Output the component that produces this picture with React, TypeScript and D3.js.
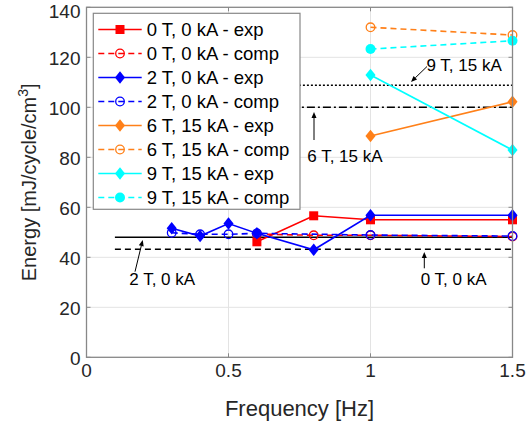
import React from "react";
import * as d3 from "d3";

const xTicks = [0, 0.5, 1, 1.5];
const yTicks = [0, 20, 40, 60, 80, 100, 120, 140];

const red_exp_x = [0.6, 0.8, 1, 1.5];
const red_exp_y = [46.2, 56.6, 55.0, 55.0];
const red_comp_x = [0.6, 0.8, 1, 1.5];
const red_comp_y = [49.3, 48.8, 48.8, 48.3];
const blue_exp_x = [0.3, 0.4, 0.5, 0.6, 0.8, 1, 1.5];
const blue_exp_y = [51.6, 48.5, 53.5, 49.6, 43.0, 56.8, 56.8];
const blue_comp_x = [0.3, 0.4, 0.5, 0.6, 1, 1.5];
const blue_comp_y = [49.8, 49.2, 49.2, 49.6, 48.9, 48.5];
const orange_exp_x = [1, 1.5];
const orange_exp_y = [88.5, 102.2];
const orange_comp_x = [1, 1.5];
const orange_comp_y = [132.0, 128.9];
const cyan_exp_x = [1, 1.5];
const cyan_exp_y = [112.9, 82.9];
const cyan_comp_x = [1, 1.5];
const cyan_comp_y = [123.3, 126.6];

const refValues = [48.0, 43.2, 108.8, 100.0];
const refDash = ["", "6,4", "2,2", "8,3,2,3"];
const refStart = 0.1;
const refEnd = 1.5;

const legendLabels = [
  "0 T, 0 kA - exp",
  "0 T, 0 kA - comp",
  "2 T, 0 kA - exp",
  "2 T, 0 kA - comp",
  "6 T, 15 kA - exp",
  "6 T, 15 kA - comp",
  "9 T, 15 kA - exp",
  "9 T, 15 kA - comp",
];

const RED = "#ff0000";
const BLUE = "#0000ff";
const ORANGE = "#ff8019";
const CYAN = "#00ffff";

type Series = { xs: number[]; ys: number[]; color: string; dashed: boolean; marker: string };
const series: Series[] = [
  { xs: red_exp_x, ys: red_exp_y, color: RED, dashed: false, marker: "square" },
  { xs: red_comp_x, ys: red_comp_y, color: RED, dashed: true, marker: "ocircle" },
  { xs: blue_exp_x, ys: blue_exp_y, color: BLUE, dashed: false, marker: "diamond" },
  { xs: blue_comp_x, ys: blue_comp_y, color: BLUE, dashed: true, marker: "ocircle" },
  { xs: orange_exp_x, ys: orange_exp_y, color: ORANGE, dashed: false, marker: "diamond" },
  { xs: orange_comp_x, ys: orange_comp_y, color: ORANGE, dashed: true, marker: "ocircle" },
  { xs: cyan_exp_x, ys: cyan_exp_y, color: CYAN, dashed: false, marker: "diamond" },
  { xs: cyan_comp_x, ys: cyan_comp_y, color: CYAN, dashed: true, marker: "fcircle" },
];

const W = 526;
const H = 427;
const L = 86.5, R = 512.5, T = 7.3, B = 357.3;
const FONT = "Liberation Sans, Arial, Helvetica, sans-serif";

function Marker({ type, x, y, color }: { type: string; x: number; y: number; color: string }) {
  if (type === "square") return <rect x={x - 4.5} y={y - 4.5} width={9} height={9} fill={color} />;
  if (type === "diamond") {
    const s = 6.3;
    return <path d={`M${x},${y - s}L${x + s * 0.8},${y}L${x},${y + s}L${x - s * 0.8},${y}Z`} fill={color} />;
  }
  if (type === "fcircle") return <circle cx={x} cy={y} r={5} fill={color} />;
  return <circle cx={x} cy={y} r={4.3} fill="none" stroke={color} strokeWidth={1.3} />;
}

function Arrow({ x1, y1, x2, y2 }: { x1: number; y1: number; x2: number; y2: number }) {
  const a = Math.atan2(y2 - y1, x2 - x1);
  const len = 6, wd = 2.5;
  const bx = x2 - len * Math.cos(a), by = y2 - len * Math.sin(a);
  const px = -Math.sin(a) * wd, py = Math.cos(a) * wd;
  return (
    <g>
      <line x1={x1} y1={y1} x2={bx} y2={by} stroke="#000" strokeWidth={1} />
      <path d={`M${x2},${y2}L${bx + px},${by + py}L${bx - px},${by - py}Z`} fill="#000" />
    </g>
  );
}

export default function App() {
  const x = d3.scaleLinear().domain([0, 1.5]).range([L, R]);
  const y = d3.scaleLinear().domain([0, 140]).range([B, T]);
  const line = d3.line<[number, number]>().x((d) => x(d[0])).y((d) => y(d[1]));

  const legX = 93.3, legY = 13.3, legW = 206.7, legH = 196;
  const rowY0 = 29.5, rowStep = 24;

  return (
    <svg width={W} height={H} style={{ position: "absolute", left: 0, top: 0, background: "#fff" }} fontFamily={FONT}>
      <rect x={0} y={0} width={W} height={H} fill="#fff" />
      {/* grid */}
      {xTicks.slice(1, -1).map((t) => (
        <line key={"gx" + t} x1={x(t)} x2={x(t)} y1={T} y2={B} stroke="#e3e3e3" strokeWidth={1} />
      ))}
      {yTicks.slice(1, -1).map((t) => (
        <line key={"gy" + t} x1={L} x2={R} y1={y(t)} y2={y(t)} stroke="#e3e3e3" strokeWidth={1} />
      ))}
      {/* ticks */}
      {xTicks.map((t) => (
        <g key={"tx" + t}>
          <line x1={x(t)} x2={x(t)} y1={B} y2={B - 4} stroke="#888" />
          <line x1={x(t)} x2={x(t)} y1={T} y2={T + 4} stroke="#888" />
          <text x={x(t)} y={B + 20} fontSize={19} textAnchor="middle" fill="#262626">{t}</text>
        </g>
      ))}
      {yTicks.map((t) => (
        <g key={"ty" + t}>
          <line x1={L} x2={L + 4} y1={y(t)} y2={y(t)} stroke="#888" />
          <line x1={R} x2={R - 4} y1={y(t)} y2={y(t)} stroke="#888" />
          <text x={L - 6} y={Math.max(y(t) + 8, 18)} fontSize={19} textAnchor="end" fill="#262626">{t}</text>
        </g>
      ))}
      {/* reference lines */}
      {refValues.map((v, i) => (
        <line key={"ref" + i} x1={x(refStart)} x2={x(refEnd)} y1={y(v)} y2={y(v)} stroke="#000" strokeWidth={1.4} strokeDasharray={refDash[i] || undefined} />
      ))}
      {/* series */}
      {series.map((s, i) => {
        const pts = s.xs.map((xv, j) => [xv, s.ys[j]] as [number, number]);
        return (
          <g key={"s" + i}>
            <path d={line(pts) || ""} fill="none" stroke={s.color} strokeWidth={1.6} strokeDasharray={s.dashed ? "6,4" : undefined} />
            {pts.map((p, j) => (
              <Marker key={j} type={s.marker} x={x(p[0])} y={y(p[1])} color={s.color} />
            ))}
          </g>
        );
      })}
      {/* box */}
      <rect x={L} y={T} width={R - L} height={B - T} fill="none" stroke="#888" strokeWidth={1.3} />
      {/* annotations */}
      <g fontSize={17} fill="#000">
        <text x={426.5} y={70.7}>9 T, 15 kA</text>
        <Arrow x1={427} y1={66.5} x2={411} y2={82} />
        <text x={307.3} y={161.7}>6 T, 15 kA</text>
        <Arrow x1={314} y1={140} x2={314} y2={112} />
        <text x={129.3} y={285}>2 T, 0 kA</text>
        <Arrow x1={135} y1={271.7} x2={142.7} y2={240} />
        <text x={420.7} y={285}>0 T, 0 kA</text>
        <Arrow x1={424.3} y1={268.3} x2={424.3} y2={252} />
      </g>
      {/* legend */}
      <rect x={legX} y={legY} width={legW} height={legH} fill="#fff" stroke="#888" strokeWidth={1.2} />
      {series.map((s, i) => {
        const ry = rowY0 + i * rowStep;
        return (
          <g key={"lg" + i}>
            <line x1={98.3} x2={141.7} y1={ry} y2={ry} stroke={s.color} strokeWidth={1.6} strokeDasharray={s.dashed ? "6,4" : undefined} />
            <Marker type={s.marker} x={120} y={ry} color={s.color} />
            <text x={146.7} y={ry + 6.5} fontSize={18.5} fill="#000">{legendLabels[i]}</text>
          </g>
        );
      })}
      {/* axis labels */}
      <text x={(L + R) / 2} y={416} fontSize={22} textAnchor="middle" fill="#262626">Frequency [Hz]</text>
      <text transform={`translate(36,${(T + B) / 2}) rotate(-90)`} fontSize={20} textAnchor="middle" fill="#262626">
        Energy [mJ/cycle/cm<tspan dy={-8} fontSize={14}>3</tspan><tspan dy={8}>]</tspan>
      </text>
    </svg>
  );
}
